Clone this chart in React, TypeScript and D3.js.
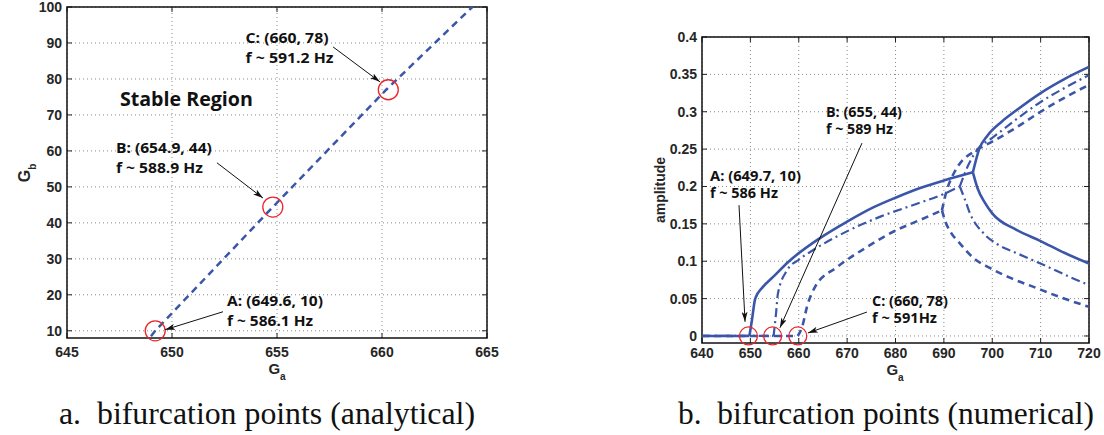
import React from 'react';
import * as d3 from 'd3';

// ---- panel a: analytical bifurcation line ----
const analyticGa = [649.0, 649.2, 654.8, 660.2, 664.3];
const analyticGb = [8.5, 10, 44.4, 77, 100];
const analyticTicksX = [645, 650, 655, 660, 665];
const analyticTicksY = [10, 20, 30, 40, 50, 60, 70, 80, 90, 100];
const analyticMarks = [
  [649.2, 10],
  [654.8, 44.4],
  [660.3, 77],
];

// ---- panel b: numerical amplitude curves ----
const numericTicksX = [640, 650, 660, 670, 680, 690, 700, 710, 720];
const numericTicksY = [0, 0.05, 0.1, 0.15, 0.2, 0.25, 0.3, 0.35, 0.4];
const numericTickText = ['0', '0.05', '0.1', '0.15', '0.2', '0.25', '0.3', '0.35', '0.4'];

// solid curve (A)
const solidFlat = [[640, 0], [649.8, 0]];
const solidRise = [
  [649.8, 0], [650.3, 0.02], [651, 0.05], [652.5, 0.065], [654.7, 0.079], [658, 0.1],
  [664.4, 0.131], [670, 0.153], [675.4, 0.172], [680, 0.185], [685.1, 0.198], [690, 0.208], [696, 0.219],
];
const solidUpper = [
  [696, 0.219], [697.3, 0.25], [699, 0.268], [702, 0.287], [705, 0.302], [710, 0.325], [715, 0.344], [720, 0.36],
];
const solidLower = [
  [696, 0.219], [697, 0.197], [698.5, 0.178], [700, 0.164], [705, 0.142], [710, 0.127], [715, 0.111], [720, 0.097],
];
// dash-dot curve (B)
const dashDotFlat = [[640, 0], [654.8, 0]];
const dashDotRise = [
  [654.8, 0], [655.3, 0.03], [655.7, 0.057], [657.6, 0.088], [660, 0.102], [663, 0.115],
  [670.6, 0.142], [677, 0.16], [684, 0.176], [690, 0.19], [693.3, 0.2],
];
const dashDotUpper = [
  [693.3, 0.2], [695, 0.228], [697, 0.25], [700, 0.265], [705, 0.29], [710, 0.313], [715, 0.332], [720, 0.349],
];
const dashDotLower = [
  [693.3, 0.2], [694.5, 0.18], [695.4, 0.164], [698.1, 0.138], [701, 0.123], [705, 0.111], [712, 0.091],
  [716, 0.079], [720, 0.068],
];
// dashed curve (C)
const dashedFlat = [[640, 0], [659.8, 0]];
const dashedRise = [
  [659.8, 0], [660.7, 0.012], [661.7, 0.039], [663.4, 0.066], [667.9, 0.092], [674.1, 0.119],
  [680, 0.141], [685, 0.155], [689.6, 0.168],
];
const dashedUpper = [
  [689.6, 0.168], [690.6, 0.195], [691.7, 0.213], [693, 0.228], [696.8, 0.249], [700, 0.26], [705, 0.279],
  [710, 0.3], [715, 0.319], [720, 0.336],
];
const dashedLower = [
  [689.6, 0.168], [690.2, 0.155], [691.5, 0.138], [693.3, 0.124], [696, 0.105], [699.5, 0.091], [704, 0.077],
  [708.4, 0.066], [714, 0.052], [720, 0.039],
];
const numericMarks = [
  [649.6, 0],
  [654.6, 0],
  [659.8, 0],
];

const BLUE = '#3b56a8';
const TICK_FONT = '"Liberation Sans", Arial, sans-serif';
const NOTE_FONT = '"Open Sans", "Noto Sans", sans-serif';
const SERIF = '"Liberation Serif", "Times New Roman", Tinos, serif';

type Note = { x: number; y: number; lines: string[]; widths: number[]; tail?: number[]; tip?: number[] };

const analyticNotes: Note[] = [
  { x: 653.5, y: 90.0, lines: ['C: (660, 78)', 'f ~ 591.2 Hz'], widths: [83, 88], tail: [657.67, 88.9], tip: [659.9, 79.2] },
  { x: 647.33, y: 59.4, lines: ['B: (654.9, 44)', 'f ~ 588.9 Hz'], widths: [96, 87], tail: [652.14, 56.7], tip: [654.33, 46.9] },
  { x: 652.62, y: 16.9, lines: ['A: (649.6, 10)', 'f ~ 586.1 Hz'], widths: [96, 86], tail: [652.43, 15.3], tip: [649.67, 10.3] },
];
const numericNotes: Note[] = [
  { x: 641.65, y: 0.207, lines: ['A: (649.7, 10)', 'f ~ 586 Hz'], widths: [91, 68], tail: [647.65, 0.175], tip: [648.9, 0.019] },
  { x: 665.63, y: 0.293, lines: ['B: (655, 44)', 'f ~ 589 Hz'], widths: [76, 67], tail: [673.07, 0.258], tip: [656.12, 0.011] },
  { x: 675.14, y: 0.04, lines: ['C: (660, 78)', 'f ~ 591Hz'], widths: [76, 65], tail: [674.1, 0.032], tip: [661.9, 0.004] },
];

function Frame({ x, y, xTicks, yTicks, yText, tick, labelGap }: any) {
  const [x0, x1] = x.range();
  const [y0, y1] = y.range();
  return (
    <g>
      {xTicks.map((t: number) => (
        <line key={'gx' + t} x1={x(t)} x2={x(t)} y1={y0} y2={y1} stroke="#8a8a8a" strokeWidth={1} strokeDasharray="1,3" />
      ))}
      {yTicks.map((t: number) => (
        <line key={'gy' + t} x1={x0} x2={x1} y1={y(t)} y2={y(t)} stroke="#8a8a8a" strokeWidth={1} strokeDasharray="1,3" />
      ))}
      {xTicks.map((t: number) => (
        <g key={'tx' + t}>
          <line x1={x(t)} x2={x(t)} y1={y0} y2={y0 - tick} stroke="#222" />
          <line x1={x(t)} x2={x(t)} y1={y1} y2={y1 + tick} stroke="#222" />
          <text x={x(t)} y={y0 + labelGap} textAnchor="middle" fontFamily={TICK_FONT} fontWeight="bold" fontSize={14} fill="#262626">
            {t}
          </text>
        </g>
      ))}
      {yTicks.map((t: number, i: number) => (
        <g key={'ty' + t}>
          <line x1={x0} x2={x0 + tick} y1={y(t)} y2={y(t)} stroke="#222" />
          <line x1={x1} x2={x1 - tick} y1={y(t)} y2={y(t)} stroke="#222" />
          <text x={x0 - 5} y={y(t) + 5} textAnchor="end" fontFamily={TICK_FONT} fontWeight="bold" fontSize={14} fill="#262626">
            {yText ? yText[i] : t}
          </text>
        </g>
      ))}
      <rect x={x0} y={y1} width={x1 - x0} height={y0 - y1} fill="none" stroke="#111" strokeWidth={1.5} />
    </g>
  );
}

function Notes({ notes, x, y, size, gap }: any) {
  return (
    <g>
      {notes.map((n: Note, i: number) => (
        <g key={i}>
          {n.lines.map((s, j) => (
            <text
              key={j}
              x={x(n.x)}
              y={y(n.y) + j * gap}
              fontFamily={NOTE_FONT}
              fontWeight="bold"
              fontSize={size}
              fill="#111"
              textLength={n.widths[j]}
              lengthAdjust="spacingAndGlyphs"
            >
              {s}
            </text>
          ))}
          {n.tail && n.tip && (
            <line
              x1={x(n.tail[0])}
              y1={y(n.tail[1])}
              x2={x(n.tip[0])}
              y2={y(n.tip[1])}
              stroke="#111"
              strokeWidth={1}
              markerEnd="url(#arrowHead)"
            />
          )}
        </g>
      ))}
    </g>
  );
}

export default function App() {
  // panel a scales
  const xa = d3.scaleLinear().domain([645, 665]).range([67, 487]);
  const ya = d3.scaleLinear().domain([8, 100]).range([338, 7]);
  const lineA = d3
    .line<number>()
    .x((d, i) => xa(analyticGa[i]))
    .y((d) => ya(d));

  // panel b scales
  const xb = d3.scaleLinear().domain([640, 720]).range([702, 1089]);
  const yb = d3.scaleLinear().domain([-0.0094, 0.4]).range([343, 37]);
  const lineB = d3
    .line<number[]>()
    .x((d) => xb(d[0]))
    .y((d) => yb(d[1]))
    .curve(d3.curveMonotoneX);

  const series = [
    { data: [solidFlat, solidRise, solidUpper, solidLower], dash: null, w: 2.6 },
    { data: [dashDotFlat, dashDotRise, dashDotUpper, dashDotLower], dash: '9,4,2,4', w: 2.2 },
    { data: [dashedFlat, dashedRise, dashedUpper, dashedLower], dash: '7,5', w: 2.6 },
  ];

  const captionStyle = { whiteSpace: 'pre' as const, fontFamily: SERIF };

  return (
    <svg width={1104} height={435} style={{ position: 'absolute', left: 0, top: 0, background: '#fff' }}>
      <defs>
        <marker id="arrowHead" viewBox="0 0 10 6" refX={10} refY={3} markerWidth={10} markerHeight={6} markerUnits="userSpaceOnUse" orient="auto">
          <path d="M0,0 L10,3 L0,6 L2.5,3 Z" fill="#111" />
        </marker>
      </defs>

      {/* ---- panel a ---- */}
      <Frame x={xa} y={ya} xTicks={analyticTicksX} yTicks={analyticTicksY} tick={5} labelGap={19} />
      <path d={lineA(analyticGb) || ''} fill="none" stroke={BLUE} strokeWidth={2.5} strokeDasharray="7,5" />
      {analyticMarks.map((m, i) => (
        <circle key={i} cx={xa(m[0])} cy={ya(m[1])} r={10} fill="none" stroke="#e8262a" strokeWidth={1.3} />
      ))}
      <text x={xa(647.52)} y={ya(72.5)} fontFamily={NOTE_FONT} fontWeight="bold" fontSize={19} fill="#111" textLength={133} lengthAdjust="spacingAndGlyphs">
        Stable Region
      </text>
      <Notes notes={analyticNotes} x={xa} y={ya} size={15} gap={20} />
      <text x={277} y={374} textAnchor="middle" fontFamily={TICK_FONT} fontWeight="bold" fontSize={15} fill="#262626">
        G<tspan fontSize={10} dy={6}>a</tspan>
      </text>
      <text transform="translate(30,173) rotate(-90)" textAnchor="middle" fontFamily={TICK_FONT} fontWeight="bold" fontSize={16} fill="#262626">
        G<tspan fontSize={10} dy={6}>b</tspan>
      </text>
      <text x={59} y={424} style={captionStyle} fontSize={31} fill="#111" textLength={416} lengthAdjust="spacingAndGlyphs">
        a.  bifurcation points (analytical)
      </text>

      {/* ---- panel b ---- */}
      <Frame x={xb} y={yb} xTicks={numericTicksX} yTicks={numericTicksY} yText={numericTickText} tick={5} labelGap={15} />
      {series.map((s, i) =>
        s.data.map((branch, j) => (
          <path
            key={i + '-' + j}
            d={lineB(branch) || ''}
            fill="none"
            stroke={BLUE}
            strokeWidth={s.w}
            strokeDasharray={s.dash || undefined}
            strokeLinejoin="round"
          />
        ))
      )}
      {numericMarks.map((m, i) => (
        <circle key={i} cx={xb(m[0])} cy={yb(m[1])} r={9} fill="none" stroke="#e8262a" strokeWidth={1.3} />
      ))}
      <Notes notes={numericNotes} x={xb} y={yb} size={14} gap={17} />
      <text x={895} y={375} textAnchor="middle" fontFamily={TICK_FONT} fontWeight="bold" fontSize={15} fill="#262626">
        G<tspan fontSize={10} dy={6}>a</tspan>
      </text>
      <text transform="translate(665,190) rotate(-90)" textAnchor="middle" fontFamily={TICK_FONT} fontWeight="bold" fontSize={14} fill="#262626">
        amplitude
      </text>
      <text x={678} y={424} style={captionStyle} fontSize={31} fill="#111" textLength={416} lengthAdjust="spacingAndGlyphs">
        b.  bifurcation points (numerical)
      </text>
    </svg>
  );
}
